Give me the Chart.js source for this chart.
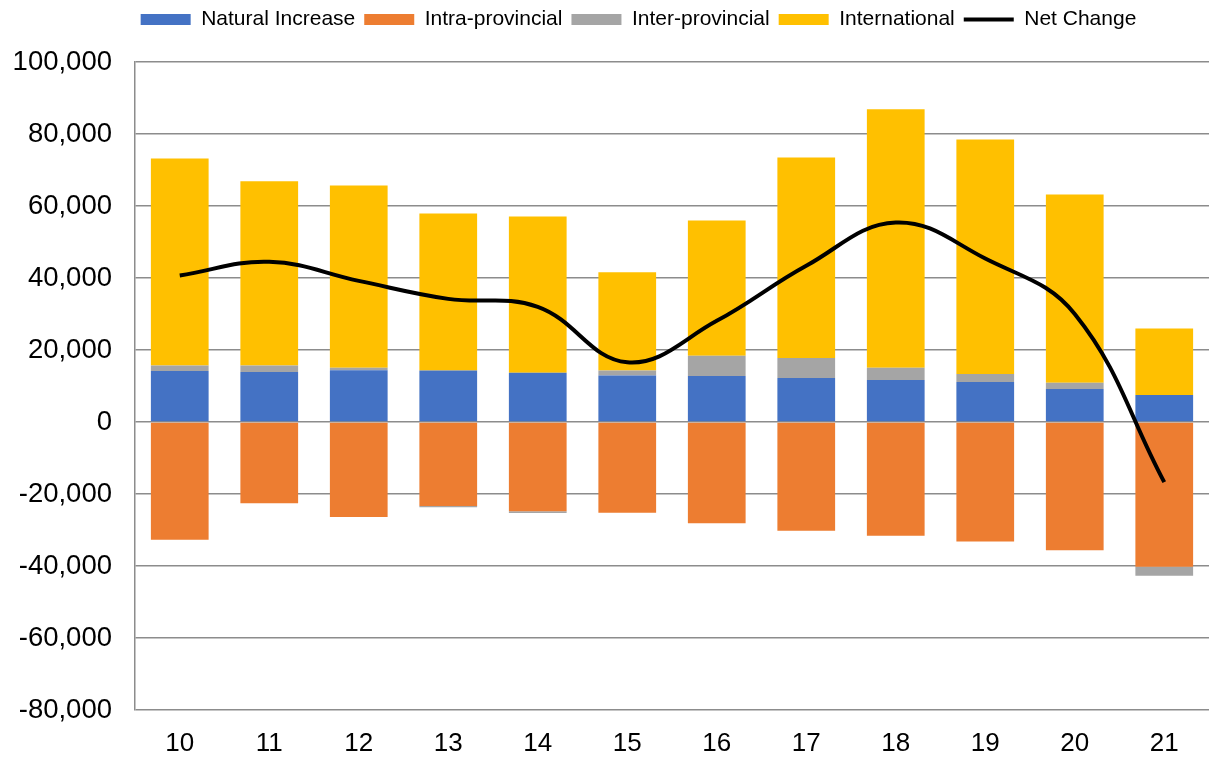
<!DOCTYPE html>
<html>
<head>
<meta charset="utf-8">
<script src="https://cdn.jsdelivr.net/npm/chart.js@4"></script>
<style>
  html, body { margin: 0; padding: 0; background: #fff; }
  #wrap { width: 1209px; height: 760px; }
</style>
</head>
<body>
<div id="wrap"><canvas id="c"></canvas></div>
<script>
// categories and series values (persons)
var years = ['10', '11', '12', '13', '14', '15', '16', '17', '18', '19', '20', '21'];
var naturalIncrease = [14200, 13900, 14400, 14300, 13700, 12900, 12800, 12200, 11700, 11100, 9200, 7500];
var intraProvincial = [-32700, -22600, -26400, -23300, -24800, -25200, -28100, -30200, -31600, -33200, -35600, -40200];
var interProvincial = [1500, 1800, 700, -400, -500, 1400, 5600, 5600, 3400, 2200, 1700, -2500];
var international = [57500, 51200, 50600, 43600, 43400, 27300, 37600, 55700, 71800, 65200, 52300, 18500];
var netChange = [40700, 44500, 39200, 34200, 32000, 16600, 28100, 43400, 55400, 45400, 30000, -16700];

var yMin = -80000, yMax = 100000, yStep = 20000;

Chart.defaults.font.family = '"Liberation Sans", Arial, sans-serif';
Chart.defaults.color = '#000';

var gridColor = '#8c8c8c';

function bar(label, data, color) {
  return {
    type: 'bar',
    label: label,
    data: data,
    backgroundColor: color,
    borderWidth: 0,
    stack: 'flows',
    order: 1,
    categoryPercentage: 1,
    barPercentage: 0.645
  };
}

// push the plot down below the legend and nudge the legend right, like the original
var legendNudge = {
  id: 'legendNudge',
  beforeLayout: function (chart) {
    var lg = chart.legend;
    if (lg && !lg._nudged) {
      var fit = lg.fit;
      lg.fit = function () { fit.call(this); this.height += 22; };
      lg._nudged = true;
    }
  },
  afterLayout: function (chart) {
    if (chart.legend) {
      chart.legend.left += 34;
      chart.legend.right += 34;
    }
  }
};

new Chart(document.getElementById('c'), {
  data: {
    labels: years,
    datasets: [
      bar('Natural Increase', naturalIncrease, '#4472C4'),
      bar('Intra-provincial', intraProvincial, '#ED7D31'),
      bar('Inter-provincial', interProvincial, '#A5A5A5'),
      bar('International', international, '#FFC000'),
      {
        type: 'line',
        label: 'Net Change',
        data: netChange,
        borderColor: '#000',
        backgroundColor: '#000',
        borderWidth: 4,
        pointRadius: 0,
        tension: 0.4,
        stack: 'net',
        order: 0
      }
    ]
  },
  plugins: [legendNudge],
  options: {
    responsive: true,
    maintainAspectRatio: false,
    animation: false,
    layout: { padding: 0 },
    plugins: {
      tooltip: { enabled: false },
      legend: {
        position: 'top',
        labels: {
          font: { size: 21 },
          color: '#000',
          usePointStyle: true,
          pointStyleWidth: 50,
          boxHeight: 11,
          padding: 9,
          sort: function (a, b) { return a.datasetIndex - b.datasetIndex; },
          generateLabels: function (chart) {
            var items = Chart.defaults.plugins.legend.labels.generateLabels(chart);
            items.forEach(function (it) {
              if (it.datasetIndex === 4) {
                it.pointStyle = 'line';
                it.lineWidth = 4;
                it.strokeStyle = '#000';
              } else {
                it.pointStyle = 'rect';
                it.lineWidth = 0;
              }
            });
            return items;
          }
        }
      }
    },
    scales: {
      x: {
        stacked: true,
        grid: { display: false, drawTicks: false },
        border: { display: false },
        afterFit: function (scale) { scale.height = 50; },
        ticks: { font: { size: 26 }, padding: 18, color: '#000' }
      },
      y: {
        stacked: true,
        min: yMin,
        max: yMax,
        afterFit: function (scale) {
          scale.width = 135;
          scale.paddingBottom = 0;
        },
        ticks: {
          stepSize: yStep,
          font: { size: 27.5 },
          padding: 23,
          color: '#000',
          callback: function (v) { return v.toLocaleString('en-US'); }
        },
        grid: { color: gridColor, lineWidth: 1.5, drawTicks: false },
        border: { display: true, color: gridColor, width: 1.5 }
      }
    }
  }
});
</script>
</body>
</html>
